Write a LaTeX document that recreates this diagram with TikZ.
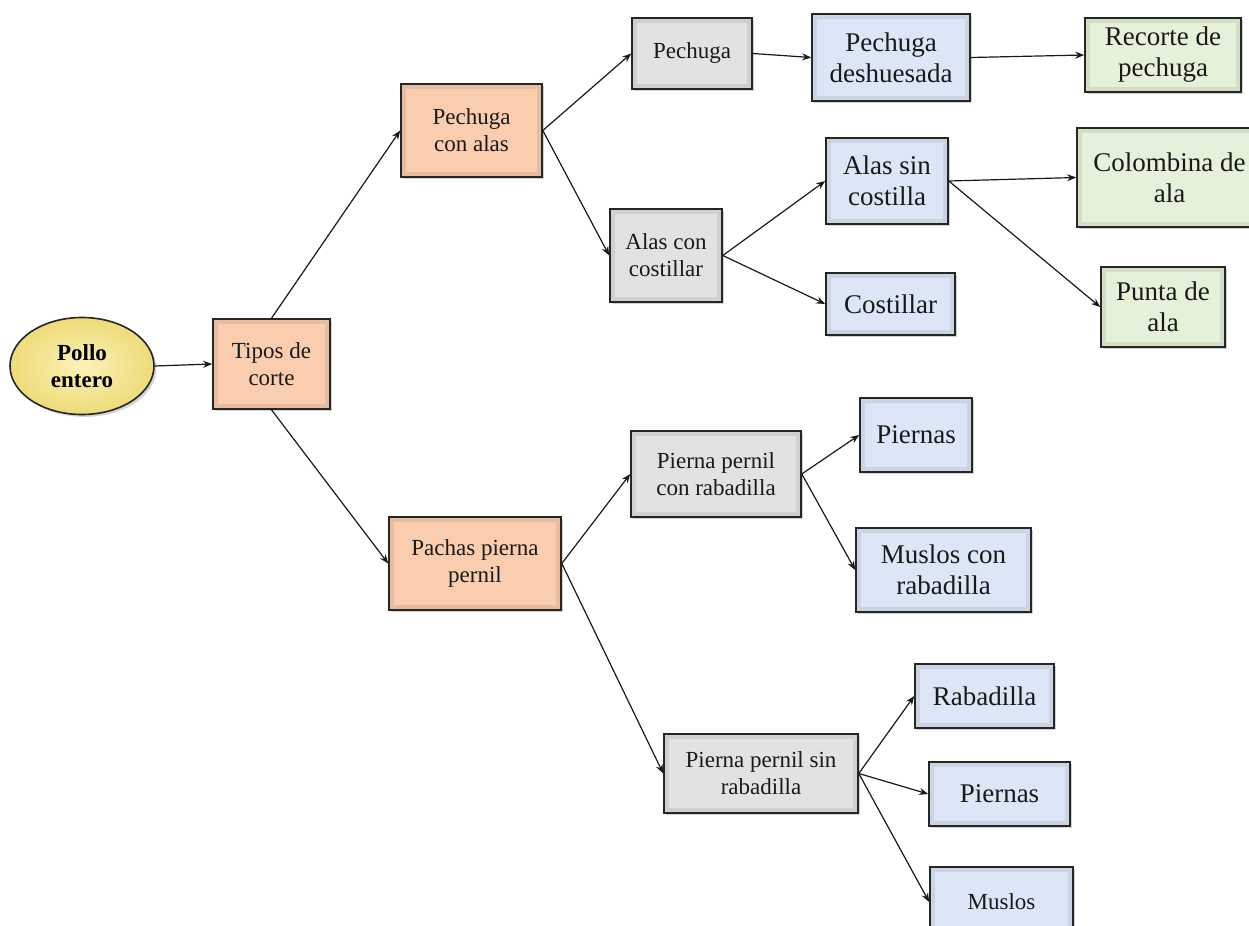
\documentclass[tikz,border=0pt]{standalone}
\usepackage{fontspec}
\setmainfont{Liberation Serif}
\usetikzlibrary{shadows,arrows.meta,shapes.geometric}

\definecolor{peach}{HTML}{F9CDAE}
\definecolor{greybox}{HTML}{E2E2E2}
\definecolor{bluebox}{HTML}{DCE6F6}
\definecolor{greenbox}{HTML}{E5F1D8}
\definecolor{yellowin}{HTML}{FBF2B8}
\definecolor{yellowout}{HTML}{EEDB78}

\tikzset{
  cutbox/.style={rectangle, draw=black!85, line width=0.8pt, inner sep=0pt,
    align=center, text=black!90, fill=#1,
    drop shadow={shadow xshift=1.2pt, shadow yshift=-1.2pt, opacity=0.35},
    path picture={\draw[line width=5pt, draw=#1!75!black, opacity=0.3]
      (path picture bounding box.south west) rectangle (path picture bounding box.north east);}},
  orangebox/.style={cutbox=peach},
  greynode/.style={cutbox=greybox},
  bluenode/.style={cutbox=bluebox},
  greennode/.style={cutbox=greenbox},
  bigtext/.style={font=\fontsize{13.5}{15.5}\selectfont},
  midtext/.style={font=\fontsize{11.5}{13.5}\selectfont},
  conn/.style={draw=black!90, line width=0.6pt, -{Stealth[length=4.5pt,width=3.5pt]}}
}

% box from its two corners (x1,y1) (x2,y2), in picture units
\newcommand{\cutnode}[7]{%
  \node[#1, minimum width={(#5-#3)*0.5pt}, minimum height={(#6-#4)*0.5pt}]
    (#2) at ({(#3+#5)/2},{(#4+#6)/2}) {#7};}

\begin{document}
\begin{tikzpicture}[x=0.5pt, y=-0.5pt]
  \path[use as bounding box, fill=white] (0,0) rectangle (1249,926);

  % root
  \node[ellipse, draw=black!85, line width=0.8pt, inner sep=0pt,
        minimum width=72pt, minimum height=48.5pt,
        inner color=yellowin, outer color=yellowout,
        drop shadow={shadow xshift=1.2pt, shadow yshift=-1.2pt, opacity=0.35},
        align=center, font=\fontsize{11.5}{13.5}\selectfont\bfseries]
        (pe) at (82,366) {Pollo\\entero};

  % first level
  \cutnode{orangebox, midtext}{tc}{213}{319}{330}{409}{Tipos de\\corte}
  \cutnode{orangebox, midtext}{pca}{401}{84}{542}{177}{Pechuga\\con alas}
  \cutnode{orangebox, midtext}{ppp}{389}{517}{561}{610}{Pachas pierna\\pernil}

  % breast and wings
  \cutnode{greynode, midtext}{pec}{632}{18}{752}{89}{Pechuga}
  \cutnode{greynode, midtext}{acc}{610}{209}{722}{302}{Alas con\\costillar}
  \cutnode{bluenode, bigtext}{pds}{812}{14}{970}{101}{Pechuga\\deshuesada}
  \cutnode{greennode, bigtext}{rdp}{1085}{18}{1241}{92}{Recorte de\\pechuga}
  \cutnode{bluenode, bigtext}{asc}{826}{138}{948}{224}{Alas sin\\costilla}
  \cutnode{bluenode, bigtext}{cos}{826}{273}{955}{335}{Costillar}
  \cutnode{greennode, bigtext}{cda}{1077}{128}{1262}{227}{Colombina de\\ala}
  \cutnode{greennode, bigtext}{pda}{1101}{267}{1225}{347}{Punta de\\ala}

  % legs
  \cutnode{greynode, midtext}{pcr}{631}{431}{801}{517}{Pierna pernil\\con rabadilla}
  \cutnode{greynode, midtext}{psr}{664}{734}{858}{813}{Pierna pernil sin\\rabadilla}
  \cutnode{bluenode, bigtext}{pi1}{860}{398}{972}{472}{Piernas}
  \cutnode{bluenode, bigtext}{mcr}{856}{528}{1031}{612}{Muslos con\\rabadilla}
  \cutnode{bluenode, bigtext}{rab}{915}{664}{1054}{728}{Rabadilla}
  \cutnode{bluenode, bigtext}{pi2}{929}{762}{1070}{826}{Piernas}
  \cutnode{bluenode, midtext}{mus}{930}{867}{1073}{937}{Muslos}

  % connectors
  \draw[conn] (pe.east) -- (tc.west);
  \draw[conn] (tc.north) -- (pca.west);
  \draw[conn] (tc.south) -- (ppp.west);
  \draw[conn] (pca.east) -- (pec.west);
  \draw[conn] (pca.east) -- (acc.west);
  \draw[conn] (pec.east) -- (pds.west);
  \draw[conn] (pds.east) -- (rdp.west);
  \draw[conn] (acc.east) -- (asc.west);
  \draw[conn] (acc.east) -- (cos.west);
  \draw[conn] (asc.east) -- (cda.west);
  \draw[conn] (asc.east) -- (pda.west);
  \draw[conn] (ppp.east) -- (pcr.west);
  \draw[conn] (ppp.east) -- (psr.west);
  \draw[conn] (pcr.east) -- (pi1.west);
  \draw[conn] (pcr.east) -- (mcr.west);
  \draw[conn] (psr.east) -- (rab.west);
  \draw[conn] (psr.east) -- (pi2.west);
  \draw[conn] (psr.east) -- (mus.west);
\end{tikzpicture}
\end{document}
